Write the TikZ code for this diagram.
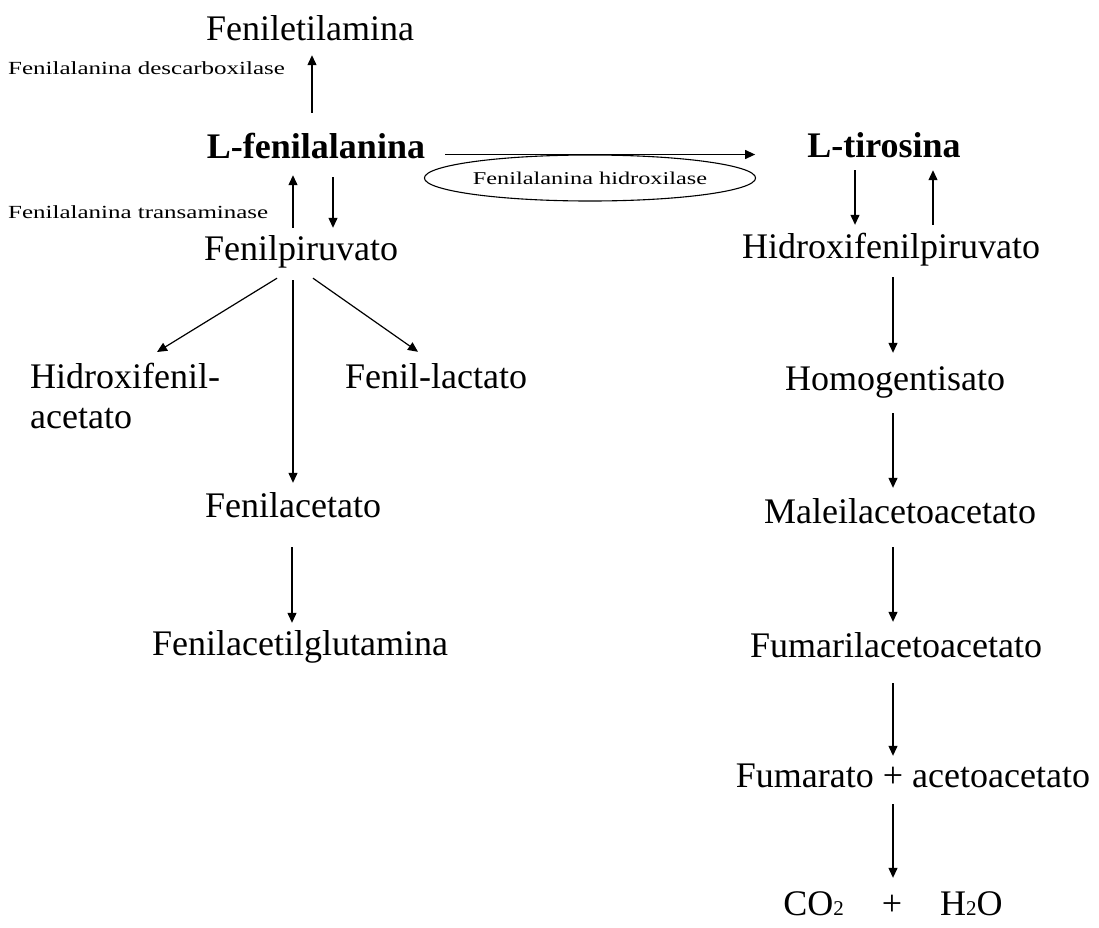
\documentclass[tikz,border=0pt]{standalone}
\usepackage{fontspec}
\setmainfont{Liberation Serif}
\newfontfamily\widefont[FakeStretch=1.35]{Liberation Serif}
\newcommand{\lowtwo}{{\fontsize{21}{21}\selectfont 2}}
\usetikzlibrary{positioning,arrows.meta,shapes.geometric}
\tikzset{
  flowarrow/.style={-{Triangle[length=10pt,width=9pt]}, line width=1.2pt},
  basenode/.style={inner sep=0pt, font=\fontsize{36}{31}\selectfont},
  compnode/.style={basenode, text height=25pt, text depth=8pt},
  keynode/.style={compnode, font=\fontsize{36}{31}\selectfont\bfseries},
  enzlabel/.style={inner sep=0pt, font=\widefont\fontsize{18.5}{20}\selectfont},
  enzring/.style={draw, ellipse, line width=1.1pt, inner sep=0pt, minimum width=290pt, minimum height=46pt, font=\widefont\fontsize{18}{20}\selectfont}
}

\begin{document}
\begin{tikzpicture}[x=1pt, y=-1pt]
  \useasboundingbox (0,0) rectangle (1099,927);
  % phenylalanine side
  \node[compnode, anchor=base] (fetil) at (310,40) {Feniletilamina};
  \node[keynode, anchor=base] (fenala) at (316,158) {L-fenilalanina};
  \node[compnode, anchor=base] (fenpir) at (301,260) {Fenilpiruvato};
  \node[basenode, anchor=north west, align=left] (hfacet) at (30,363) {Hidroxifenil-\\[9pt]acetato};
  \node[compnode, anchor=base] (flact) at (436,388) {Fenil-lactato};
  \node[compnode, anchor=base] (fenacet) at (293,517) {Fenilacetato};
  \node[compnode, anchor=base] (fglut) at (300,655) {Fenilacetilglutamina};
  % tyrosine side
  \node[keynode, anchor=base] (tiro) at (884,157) {L-tirosina};
  \node[compnode, anchor=base] (hfpir) at (891,258) {Hidroxifenilpiruvato};
  \node[compnode, anchor=base] (homog) at (895,390) {Homogentisato};
  \node[compnode, anchor=base] (malac) at (900,523) {Maleilacetoacetato};
  \node[compnode, anchor=base] (fumac) at (896,657) {Fumarilacetoacetato};
  \node[compnode, anchor=base] (fumar) at (913,787) {Fumarato + acetoacetato};
  \node[compnode, anchor=base] (final) at (893,915) {CO\lowtwo\hspace{38pt}+\hspace{38pt}H\lowtwo O};
  % enzymes
  \node[enzlabel, anchor=base west] (descarb) at (8,74) {Fenilalanina descarboxilase};
  \node[enzlabel, anchor=base west] (transam) at (8,218) {Fenilalanina transaminase};
  \node[enzring] (hidrox) at (590,178) {Fenilalanina hidroxilase};

  \draw[flowarrow, shorten <=20pt, shorten >=7pt] ([xshift=-4pt]fenala.north) -- ([xshift=2pt]fetil.south);
  \draw[flowarrow, shorten <=7pt, shorten >=9pt] ([xshift=-8pt]fenpir.north) -- ([xshift=-23pt]fenala.south);
  \draw[flowarrow, shorten <=11pt, shorten >=7pt] ([xshift=17pt]fenala.south) -- ([xshift=32pt]fenpir.north);
  \draw[flowarrow, shorten <=20pt, shorten >=52pt] ([yshift=-5pt]fenala.east) -- ([yshift=-5pt]fenala.east -| tiro.west);
  \draw[flowarrow, shorten <=5pt, shorten >=8pt] ([xshift=-29pt]tiro.south) -- ([xshift=-36pt]hfpir.north);
  \draw[flowarrow, shorten <=8pt, shorten >=5pt] ([xshift=42pt]hfpir.north) -- ([xshift=49pt]tiro.south);
  \draw[flowarrow] ([shift={(-24pt,-10pt)}]fenpir.south) -- ([shift={(127pt,11pt)}]hfacet.north west);
  \draw[flowarrow] ([shift={(12pt,-10pt)}]fenpir.south) -- ([shift={(-18pt,11pt)}]flact.north);
  \draw[flowarrow, shorten <=12pt, shorten >=9pt] ([xshift=-8pt]fenpir.south) -- (fenacet.north);
  \draw[flowarrow, shorten <=22pt, shorten >=7pt] ([xshift=-1pt]fenacet.south) -- ([xshift=-8pt]fglut.north);
  \draw[flowarrow, shorten <=11pt, shorten >=12pt] ([xshift=2pt]hfpir.south) -- ([xshift=-2pt]homog.north);
  \draw[flowarrow, shorten <=15pt, shorten >=10pt] ([xshift=-2pt]homog.south) -- ([xshift=-7pt]malac.north);
  \draw[flowarrow, shorten <=16pt, shorten >=10pt] ([xshift=-7pt]malac.south) -- ([xshift=-3pt]fumac.north);
  \draw[flowarrow, shorten <=18pt, shorten >=6pt] ([xshift=-3pt]fumac.south) -- ([xshift=-20pt]fumar.north);
  \draw[flowarrow, shorten <=9pt, shorten >=12pt] ([xshift=-20pt]fumar.south) -- (final.north);
\end{tikzpicture}
\end{document}
